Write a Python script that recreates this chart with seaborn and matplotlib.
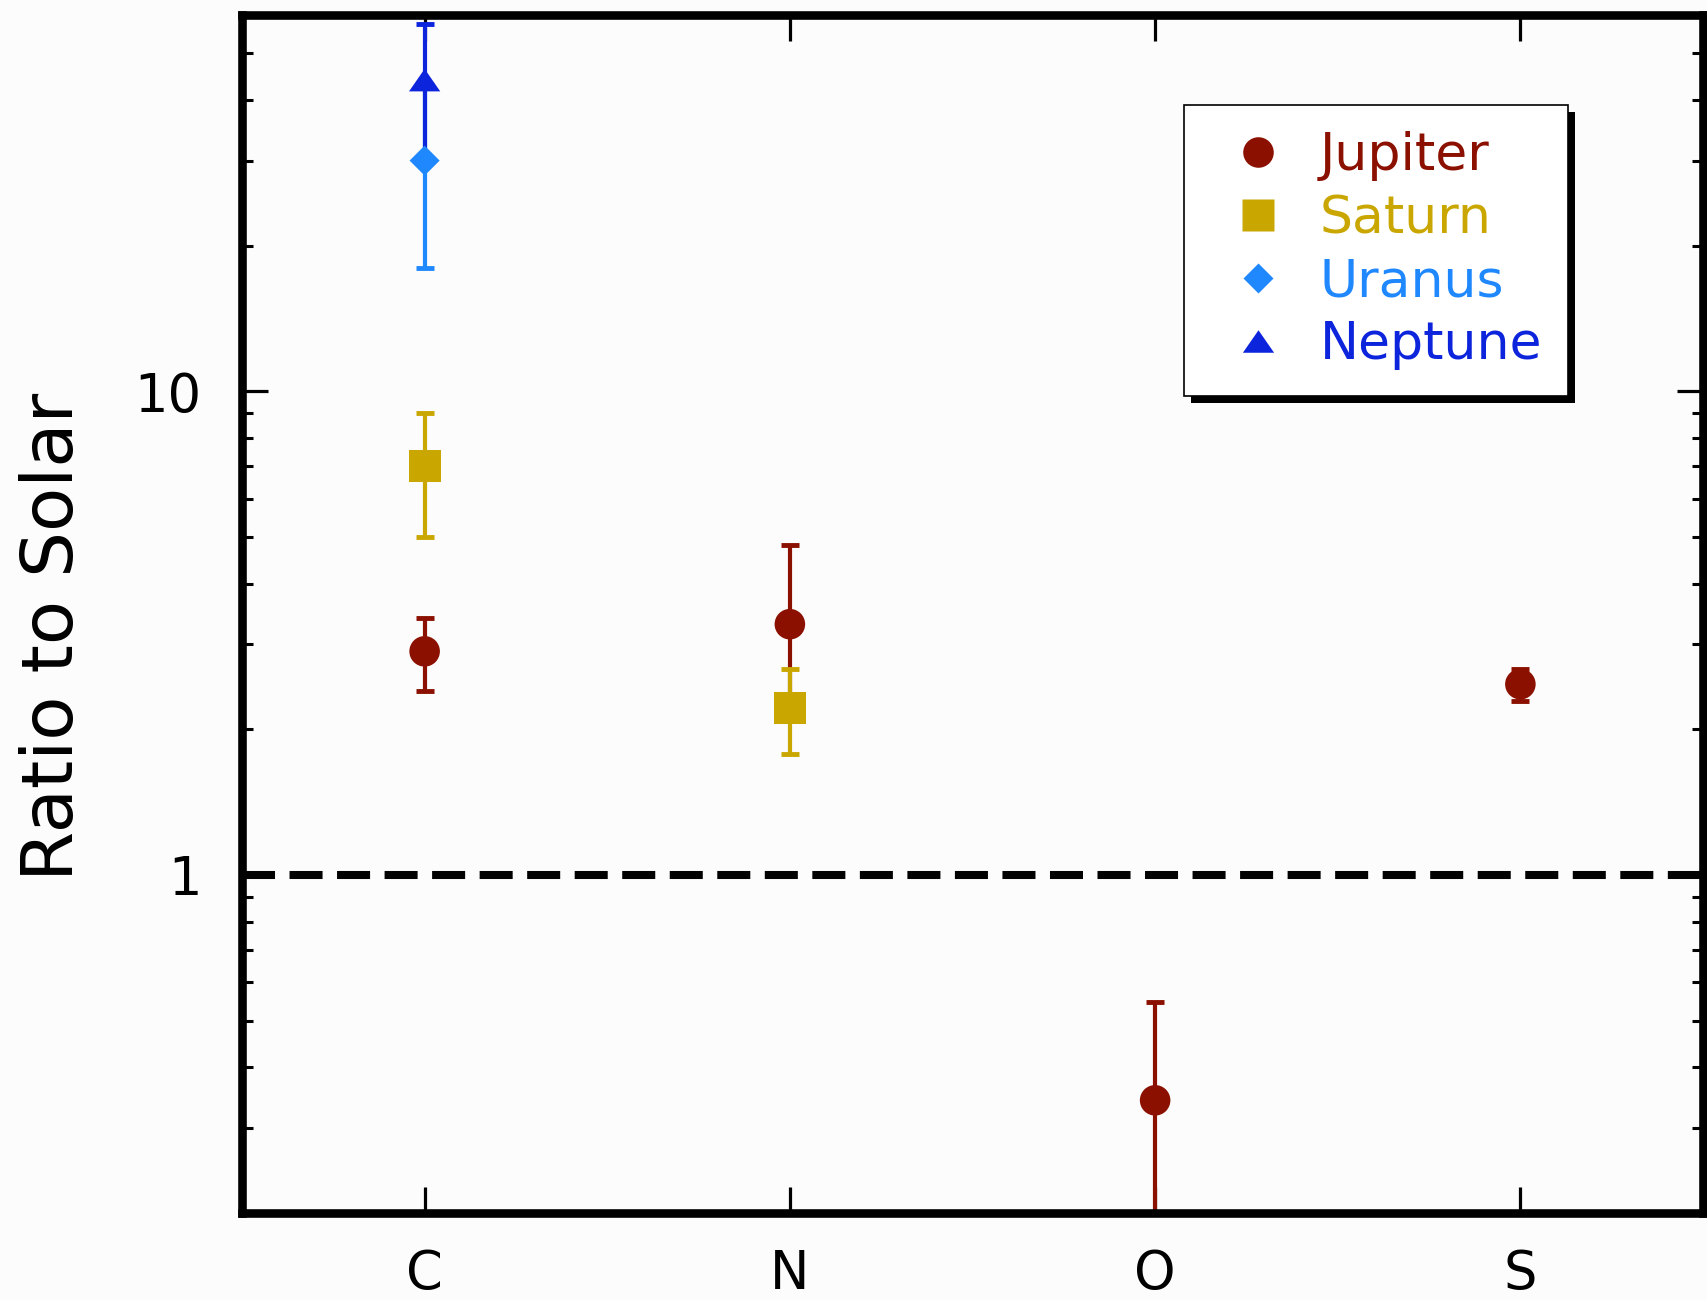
import numpy as np
import pandas as pd
import matplotlib
matplotlib.use("Agg")
import matplotlib.pyplot as plt
from matplotlib.lines import Line2D
from matplotlib.patches import Rectangle
from matplotlib.transforms import IdentityTransform
from matplotlib.ticker import FixedLocator, FixedFormatter, NullFormatter
import seaborn as sns

# ---------------- data ----------------
elements = ["C", "N", "O", "S"]
planets = ["Jupiter", "Saturn", "Uranus", "Neptune"]

jupiter_el = ["C", "N", "O", "S"]
jupiter_val = [2.9, 3.3, 0.342, 2.48]
jupiter_lo = [0.5, 1.0, 0.2, 0.19]
jupiter_hi = [0.5, 1.5, 0.205, 0.19]

saturn_el = ["C", "N"]
saturn_val = [7.0, 2.21]
saturn_lo = [2.0, 0.43]
saturn_hi = [2.0, 0.45]

uranus_el = ["C"]
uranus_val = [30.0]
uranus_lo = [12.0]
uranus_hi = [13.0]

neptune_el = ["C"]
neptune_val = [44.0]
neptune_lo = [14.0]
neptune_hi = [13.5]

y_major = [1, 10]
y_major_labels = ["1", "10"]
y_minor = [0.3, 0.4, 0.5, 0.6, 0.7, 0.8, 0.9, 2, 3, 4, 5, 6, 7, 8, 9, 20, 30, 40, 50]

# ---------------- style ----------------
colors = {"Jupiter": "#8b1000", "Saturn": "#c9a700", "Uranus": "#1f88ff", "Neptune": "#0c24dc"}
tri = [(-1, -0.72), (1, -0.72), (0, 0.72), (-1, -0.72)]
markers = {"Jupiter": "o", "Saturn": "s", "Uranus": "D", "Neptune": tri}
msizes = {"Jupiter": 22, "Saturn": 23, "Uranus": 15.3, "Neptune": 22.5}

sns.set_style("ticks")
plt.rcParams["font.family"] = ["DejaVu Sans"]
bg = "#fcfcfc"

fig = plt.figure(figsize=(17.08, 13.0), dpi=100, facecolor=bg)
ax = fig.add_axes([242 / 1708, 1 - 1213 / 1300, (1703 - 242) / 1708, (1213 - 15) / 1300])
ax.set_facecolor(bg)

series = {
    "Jupiter": (jupiter_el, jupiter_val, jupiter_lo, jupiter_hi),
    "Saturn": (saturn_el, saturn_val, saturn_lo, saturn_hi),
    "Uranus": (uranus_el, uranus_val, uranus_lo, uranus_hi),
    "Neptune": (neptune_el, neptune_val, neptune_lo, neptune_hi),
}

frames = []
for p in planets:
    el, val, lo, hi = series[p]
    frames.append(pd.DataFrame({"element": el, "value": val, "lo": lo, "hi": hi, "planet": p}))
df = pd.concat(frames, ignore_index=True)

# error bars (drawn in planet order so later ones overlay)
for p in planets:
    d = df[df.planet == p]
    ax.errorbar(d["element"], d["value"], yerr=[d["lo"], d["hi"]], fmt="none",
                ecolor=colors[p], elinewidth=3.0, capsize=6.5, capthick=3.5, zorder=2)

# markers
for p in planets:
    d = df[df.planet == p]
    sns.scatterplot(data=d, x="element", y="value", marker=markers[p], s=msizes[p] ** 2,
                    color=colors[p], edgecolor="none", linewidth=0, ax=ax, zorder=3, legend=False)

ax.axhline(1, color="black", lw=5.8, dashes=(4.1, 1.8), zorder=1.5)

ax.set_yscale("log")
ax.set_ylim(0.2, 60)
ax.set_xlim(-0.5, 3.5)

ax.yaxis.set_major_locator(FixedLocator(y_major))
ax.yaxis.set_major_formatter(FixedFormatter(y_major_labels))
ax.yaxis.set_minor_locator(FixedLocator(y_minor))
ax.yaxis.set_minor_formatter(NullFormatter())

ax.set_xlabel("")
ax.set_ylabel("")
for s in ax.spines.values():
    s.set_linewidth(6.2)
    s.set_color("black")
    s.set_visible(True)

ax.tick_params(axis="both", which="both", direction="in", top=True, right=True, colors="black")
ax.tick_params(axis="both", which="major", length=18.5, width=2.3, labelsize=38)
ax.tick_params(axis="both", which="minor", length=8, width=2.2)
ax.tick_params(axis="x", which="major", pad=25)
ax.tick_params(axis="y", which="major", pad=29)

fig.text(54 / 1708, 1 - 637 / 1300, "Ratio to Solar", rotation=90, ha="center", va="center",
         fontsize=52, color="black")

handles = [Line2D([], [], linestyle="none", marker=markers[p], markersize=msizes[p],
                  markerfacecolor=colors[p], markeredgecolor="none") for p in planets]
leg = ax.legend(handles, planets, loc="upper right",
                bbox_to_anchor=((1568 - 242) / 1461, (1213 - 105) / 1198),
                borderaxespad=0, fontsize=37.5, labelspacing=0.25, handlelength=1.85,
                handletextpad=0.25, borderpad=0.5, frameon=True, fancybox=False,
                framealpha=1, edgecolor="black", facecolor="white")
leg.get_frame().set_linewidth(1.2)
leg.set_zorder(5)
for t, p in zip(leg.get_texts(), planets):
    t.set_color(colors[p])

fig.canvas.draw()
bb = leg.get_frame().get_window_extent(fig.canvas.get_renderer())
off = 7
shadow = Rectangle((bb.x0 + off, bb.y0 - off), bb.width, bb.height, transform=IdentityTransform(),
                   facecolor="black", edgecolor="none", zorder=4.9, clip_on=False)
ax.add_patch(shadow)

fig.savefig("out.png", dpi=100, facecolor=bg)
